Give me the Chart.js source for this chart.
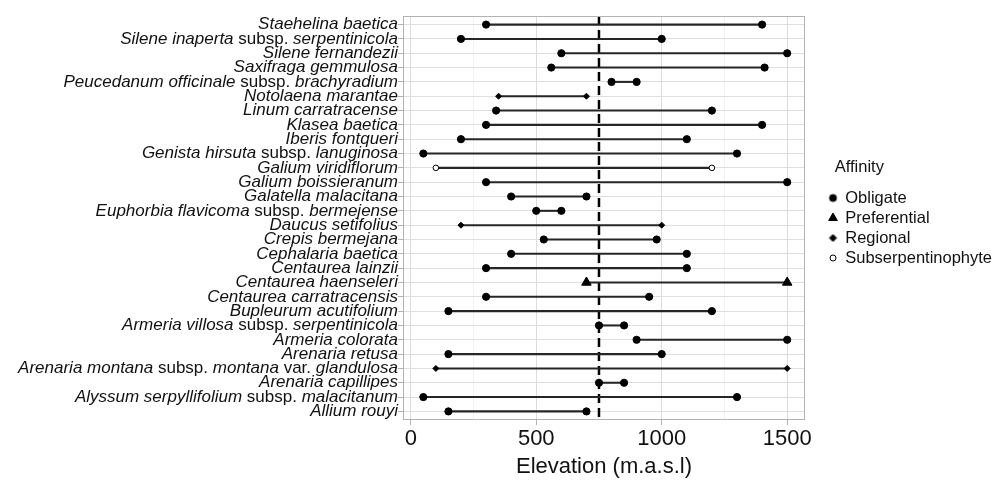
<!DOCTYPE html>
<html>
<head>
<meta charset="utf-8">
<script src="https://cdn.jsdelivr.net/npm/chart.js@4/dist/chart.umd.min.js"></script>
<style>
  html, body { margin: 0; padding: 0; background: #fff; }
  #wrap { width: 994px; height: 481px; }
</style>
</head>
<body>
<div id="wrap"><canvas id="graficoAltitude"></canvas></div>
<script>
// species, top to bottom
const especies = [
    'Staehelina baetica',
    'Silene inaperta subsp. serpentinicola',
    'Silene fernandezii',
    'Saxifraga gemmulosa',
    'Peucedanum officinale subsp. brachyradium',
    'Notolaena marantae',
    'Linum carratracense',
    'Klasea baetica',
    'Iberis fontqueri',
    'Genista hirsuta subsp. lanuginosa',
    'Galium viridiflorum',
    'Galium boissieranum',
    'Galatella malacitana',
    'Euphorbia flavicoma subsp. bermejense',
    'Daucus setifolius',
    'Crepis bermejana',
    'Cephalaria baetica',
    'Centaurea lainzii',
    'Centaurea haenseleri',
    'Centaurea carratracensis',
    'Bupleurum acutifolium',
    'Armeria villosa subsp. serpentinicola',
    'Armeria colorata',
    'Arenaria retusa',
    'Arenaria montana subsp. montana var. glandulosa',
    'Arenaria capillipes',
    'Alyssum serpyllifolium subsp. malacitanum',
    'Allium rouyi'
];
const altMin = [300, 200, 600, 560, 800, 350, 340, 300, 200, 50, 100, 300, 400, 500,
    200, 530, 400, 300, 700, 300, 150, 750, 900, 150, 100, 750, 50, 150];
const altMax = [1400, 1000, 1500, 1410, 900, 700, 1200, 1400, 1100, 1300, 1200, 1500, 700, 600,
    1000, 980, 1100, 1100, 1500, 950, 1200, 850, 1500, 1000, 1500, 850, 1300, 700];
const afinidade = ['Obligate', 'Obligate', 'Obligate', 'Obligate', 'Obligate', 'Regional',
    'Obligate', 'Obligate', 'Obligate', 'Obligate', 'Subserpentinophyte', 'Obligate', 'Obligate',
    'Obligate', 'Regional', 'Obligate', 'Obligate', 'Obligate', 'Preferential', 'Obligate',
    'Obligate', 'Obligate', 'Obligate', 'Obligate', 'Regional', 'Obligate', 'Obligate', 'Obligate'];
const grupos = ['Obligate', 'Preferential', 'Regional', 'Subserpentinophyte'];
const xTicks = [0, 500, 1000, 1500];
const xGrade = [0, 250, 500, 750, 1000, 1250, 1500];
const limiar = 750;

const fonte = '"Liberation Sans", Arial, sans-serif';
const semCor = 'rgba(0,0,0,0)';

const estilos = {
    Obligate: { pointStyle: 'circle', radius: 3.6, fill: '#000', lw: 1, legR: 3.5 },
    Preferential: { pointStyle: 'triangle', radius: 5.5, fill: '#000', lw: 1, legR: 5 },
    Regional: { pointStyle: 'rectRot', radius: 3, fill: '#000', lw: 1, legR: 3.5 },
    Subserpentinophyte: { pointStyle: 'circle', radius: 2.8, fill: '#fff', lw: 1, legR: 3 }
};

// little canvas markers for the legend (different sizes per group)
function marcador(g) {
    const e = estilos[g];
    const c = document.createElement('canvas');
    const s = Math.ceil(e.legR * 2 + 4);
    c.width = s; c.height = s;
    const ctx = c.getContext('2d');
    ctx.fillStyle = e.fill;
    ctx.strokeStyle = '#000';
    ctx.lineWidth = e.lw;
    Chart.helpers.drawPoint(ctx, { pointStyle: e.pointStyle, radius: e.legR, borderWidth: e.lw, rotation: 0 }, s / 2, s / 2);
    return c;
}

const valorTick = c => (c && c.tick) ? c.tick.value : NaN;

const segmentos = especies.map((s, i) => ({ x: [altMin[i], altMax[i]], y: i }));

const pontos = grupos.map(g => {
    const data = [];
    especies.forEach((s, i) => {
        if (afinidade[i] === g) {
            data.push({ x: altMin[i], y: i });
            data.push({ x: altMax[i], y: i });
        }
    });
    const e = estilos[g];
    return {
        type: 'scatter',
        label: g,
        data: data,
        yAxisID: 'y',
        xAxisID: 'x',
        pointStyle: e.pointStyle,
        pointRadius: e.radius,
        pointBackgroundColor: e.fill,
        pointBorderColor: '#000',
        pointBorderWidth: e.lw,
        order: 1
    };
});

// dashed reference line + panel border + species labels with mixed italics
const extras = {
    id: 'extras',
    beforeDatasetsDraw(chart) {
        const { ctx, chartArea } = chart;
        const x = chart.scales.x.getPixelForValue(limiar);
        ctx.save();
        ctx.strokeStyle = '#000';
        ctx.lineWidth = 2.5;
        ctx.setLineDash([9, 5]);
        ctx.beginPath();
        ctx.moveTo(x, chartArea.top);
        ctx.lineTo(x, chartArea.bottom);
        ctx.stroke();
        ctx.restore();
    },
    afterDraw(chart) {
        const { ctx, chartArea } = chart;
        ctx.save();
        ctx.strokeStyle = '#b3b3b3';
        ctx.lineWidth = 1;
        ctx.strokeRect(chartArea.left + 0.5, chartArea.top + 0.5, chartArea.width - 1, chartArea.height - 1);

        const y = chart.scales.y;
        const fimX = chartArea.left - 5;
        const ital = 'italic 17px ' + fonte;
        const reto = '17px ' + fonte;
        ctx.fillStyle = '#111';
        ctx.textBaseline = 'middle';
        ctx.textAlign = 'left';
        especies.forEach((nome, i) => {
            const partes = nome.split(/( subsp\. | var\. )/).filter(p => p.length);
            const larg = partes.map(p => {
                ctx.font = /subsp\.|var\./.test(p) ? reto : ital;
                return ctx.measureText(p).width;
            });
            let x = fimX - larg.reduce((a, b) => a + b, 0);
            const py = y.getPixelForValue(i);
            partes.forEach((p, k) => {
                ctx.font = /subsp\.|var\./.test(p) ? reto : ital;
                ctx.fillText(p, x, py);
                x += larg[k];
            });
        });
        ctx.restore();
    }
};

document.addEventListener('DOMContentLoaded', function () {
    const ctxAlt = document.getElementById('graficoAltitude');

    new Chart(ctxAlt, {
        type: 'scatter',
        data: {
            datasets: [
                {
                    type: 'bar',
                    label: 'range',
                    indexAxis: 'y',
                    data: segmentos,
                    xAxisID: 'x',
                    yAxisID: 'y',
                    backgroundColor: '#262626',
                    borderWidth: 0,
                    barThickness: 1.4,
                    order: 2
                },
                ...pontos
            ]
        },
        options: {
            responsive: true,
            maintainAspectRatio: false,
            animation: false,
            layout: { padding: { top: 16, right: 0, bottom: 0, left: 0 } },
            scales: {
                x: {
                    type: 'linear',
                    position: 'bottom',
                    offset: false,
                    min: -31,
                    max: 1571,
                    afterBuildTicks: s => {
                        s.ticks = xGrade.map(v => ({ value: v }));
                        s.min = -31;
                        s.max = 1571;
                    },
                    afterFit: s => { s.height = 61; },
                    border: { display: false },
                    grid: {
                        offset: false,
                        drawTicks: true,
                        tickLength: 5,
                        color: c => xTicks.includes(valorTick(c)) ? '#dcdcdc' : '#ededed',
                        lineWidth: c => xTicks.includes(valorTick(c)) ? 1 : 0.8,
                        tickColor: c => xTicks.includes(valorTick(c)) ? '#b3b3b3' : semCor
                    },
                    ticks: {
                        autoSkip: false,
                        maxRotation: 0,
                        padding: 1,
                        color: '#111',
                        font: { family: fonte, size: 22 },
                        callback: v => xTicks.includes(v) ? String(v) : ''
                    },
                    title: {
                        display: true,
                        text: 'Elevation (m.a.s.l)',
                        color: '#111',
                        font: { family: fonte, size: 22 },
                        padding: { top: 0, bottom: 1 }
                    }
                },
                y: {
                    type: 'linear',
                    position: 'left',
                    reverse: true,
                    offset: false,
                    min: -0.6,
                    max: especies.length - 0.4,
                    afterBuildTicks: s => {
                        s.ticks = especies.map((n, i) => ({ value: i }));
                        s.min = -0.6;
                        s.max = especies.length - 0.4;
                    },
                    afterFit: s => { s.width = 403; },
                    border: { display: false },
                    grid: {
                        offset: false,
                        drawTicks: true,
                        tickLength: 5,
                        color: '#dedede',
                        tickColor: '#b3b3b3'
                    },
                    ticks: { display: false }
                },
                espaco: {
                    type: 'linear',
                    position: 'right',
                    display: true,
                    afterFit: s => { s.width = 20.5; },
                    border: { display: false },
                    grid: { display: false },
                    ticks: { display: false }
                }
            },
            plugins: {
                tooltip: { enabled: false },
                legend: {
                    position: 'right',
                    align: 'start',
                    fullSize: false,
                    maxWidth: 168.5,
                    title: {
                        display: true,
                        text: '  Affinity',
                        position: 'start',
                        color: '#111',
                        font: { family: fonte, size: 16.5, lineHeight: 1 },
                        padding: { top: 142.75, bottom: 11 }
                    },
                    labels: {
                        usePointStyle: true,
                        boxWidth: 8,
                        boxHeight: 8,
                        padding: 3.5,
                        color: '#111',
                        font: { family: fonte, size: 16.5 },
                        filter: item => item.datasetIndex > 0,
                        generateLabels: chart => {
                            const itens = Chart.defaults.plugins.legend.labels.generateLabels(chart);
                            itens.forEach(it => {
                                if (it.datasetIndex > 0) it.pointStyle = marcador(grupos[it.datasetIndex - 1]);
                            });
                            return itens;
                        }
                    }
                }
            }
        },
        plugins: [extras]
    });
});
</script>
</body>
</html>
